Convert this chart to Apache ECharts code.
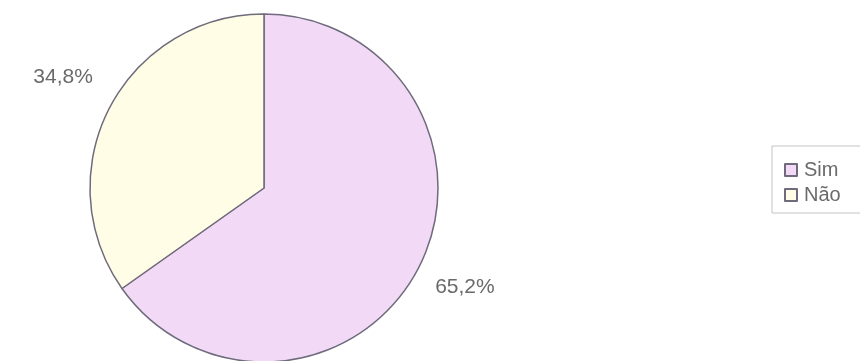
<!DOCTYPE html>
<html>
<head>
<meta charset="utf-8">
<script src="https://cdn.jsdelivr.net/npm/echarts@6/dist/echarts.min.js"></script>
<style>
  html, body { margin: 0; padding: 0; background: #fff; }
</style>
</head>
<body>
<div id="chart" style="width: 860px; height: 361px;"></div>
<script>
  var categories = ['Sim', 'Não']
  var values = [65.2, 34.8]
  var colors = ['#F2DAF6', '#FFFDE6']

  var chart = echarts.init(document.getElementById('chart'))
  chart.setOption({
    animation: false,
    textStyle: {
      fontFamily: 'Liberation Sans, Arial, sans-serif'
    },
    legend: {
      orient: 'vertical',
      left: 772,
      top: 146,
      padding: [14, 40, 8, 12],
      itemGap: 5,
      itemWidth: 12,
      itemHeight: 12,
      icon: 'rect',
      borderColor: '#c4c4c4',
      borderWidth: 1,
      data: categories,
      textStyle: {
        fontSize: 20,
        color: '#6a6a6a',
        padding: [0, 0, 0, 2]
      }
    },
    series: [{
      type: 'pie',
      center: [264, 188],
      radius: 174,
      startAngle: 90,
      clockwise: true,
      data: categories.map(function (c, i) {
        return { name: c, value: values[i], itemStyle: { color: colors[i] } }
      }),
      itemStyle: {
        borderColor: '#6f6a7c',
        borderWidth: 1.5
      },
      label: {
        show: true,
        position: 'outside',
        fontSize: 21,
        color: '#6a6a6a',
        overflow: 'none',
        formatter: function (p) {
          return p.value.toFixed(1).replace('.', ',') + '%'
        }
      },
      labelLine: {
        show: false,
        length: 50,
        length2: 0
      },
      labelLayout: function (p) {
        var w = p.labelRect.width
        return { dx: p.dataIndex === 0 ? -w / 2 - 3 : w / 2 + 3, dy: p.dataIndex === 0 ? -4 : -8 }
      },
      emphasis: { disabled: true }
    }]
  })
</script>
</body>
</html>
